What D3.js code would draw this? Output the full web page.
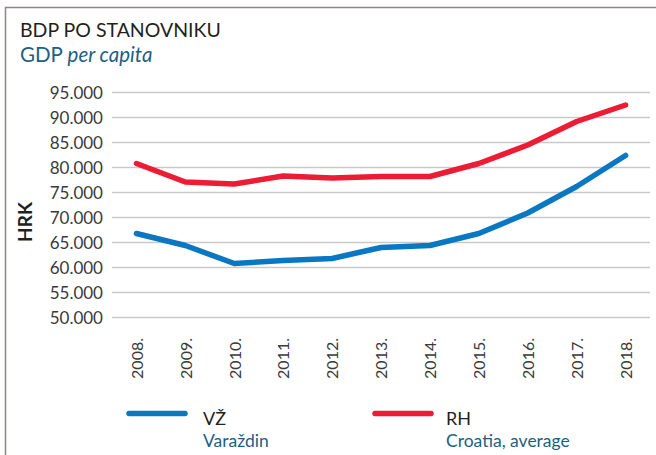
<!DOCTYPE html>
<html>
<head>
<meta charset="utf-8">
<script src="https://cdn.jsdelivr.net/npm/d3@7"></script>
<style>
  body { margin: 0; background: #fff; }
  svg { display: block; }
  text { font-family: Lato, "Open Sans", sans-serif; }
</style>
</head>
<body>
<svg width="656" height="455"></svg>
<script>
  // data
  var years = ["2008.", "2009.", "2010.", "2011.", "2012.", "2013.", "2014.", "2015.", "2016.", "2017.", "2018."];
  var varazdin = [66700, 64300, 60700, 61300, 61700, 63900, 64300, 66700, 70800, 76100, 82300];
  var croatia = [80700, 77000, 76600, 78200, 77800, 78100, 78100, 80700, 84400, 89100, 92400];
  var yTicks = [50000, 55000, 60000, 65000, 70000, 75000, 80000, 85000, 90000, 95000];

  var series = [
    { code: "VŽ", name: "Varaždin", values: varazdin, color: "#0a77c2" },
    { code: "RH", name: "Croatia, average", values: croatia, color: "#ec1c34" }
  ];

  // legend slots: line start, text start
  var legendPos = [[129, 203], [375, 446]];

  var svg = d3.select("svg"),
      width = +svg.attr("width"),
      height = +svg.attr("height");

  var tickFmt = function (v) { return d3.format(",.0f")(v).replace(/,/g, "."); };

  // frame
  svg.append("line").attr("x1", 5).attr("x2", width).attr("y1", 7.5).attr("y2", 7.5)
    .attr("stroke", "#8c8782").attr("stroke-width", 1.5);
  svg.append("line").attr("x1", 5.5).attr("x2", 5.5).attr("y1", 7).attr("y2", height)
    .attr("stroke", "#8c8782").attr("stroke-width", 1.5);

  // titles
  svg.append("text").attr("x", 20).attr("y", 37)
    .attr("font-size", 19.5).attr("fill", "#231f20").text("BDP PO STANOVNIKU");
  var sub = svg.append("text").attr("x", 20).attr("y", 62)
    .attr("font-size", 20.5).attr("fill", "#1d5f86");
  sub.append("tspan").text("GDP ");
  sub.append("tspan").attr("font-style", "italic").text("per capita");

  var x = d3.scalePoint().domain(years).range([112, 650]).padding(0.5);
  var y = d3.scaleLinear().domain([50000, 95000]).range([317, 92]);

  // grid + y labels
  var yAxis = svg.append("g")
    .attr("transform", "translate(112,0)")
    .call(d3.axisLeft(y).tickValues(yTicks).tickFormat(tickFmt).tickSize(-538).tickPadding(9));
  yAxis.select(".domain").remove();
  yAxis.selectAll(".tick line").attr("stroke", "#c9c9c9").attr("stroke-width", 1.5);
  yAxis.selectAll(".tick text").attr("font-size", 17).attr("fill", "#3a3a3a")
    .attr("font-family", "Lato, sans-serif").attr("dy", "0.4em");

  // x labels, rotated
  var xAxis = svg.append("g")
    .attr("transform", "translate(0,338)")
    .call(d3.axisBottom(x).tickSize(0).tickPadding(0));
  xAxis.select(".domain").remove();
  xAxis.selectAll(".tick text")
    .attr("font-size", 16).attr("fill", "#3a3a3a")
    .attr("font-family", "'Liberation Sans', Arial, sans-serif")
    .attr("text-anchor", "end")
    .attr("transform", "rotate(-90)")
    .attr("x", 0).attr("y", 0).attr("dy", "0.36em");

  // y title
  svg.append("text")
    .attr("transform", "translate(32,222) rotate(-90)")
    .attr("text-anchor", "middle")
    .attr("font-size", 19).attr("font-weight", "bold").attr("fill", "#231f20")
    .text("HRK");

  // lines
  var line = d3.line()
    .x(function (d, i) { return x(years[i]); })
    .y(function (d) { return y(d); });

  svg.append("g").selectAll("path")
    .data(series)
    .enter().append("path")
      .attr("d", function (d) { return line(d.values); })
      .attr("fill", "none")
      .attr("stroke", function (d) { return d.color; })
      .attr("stroke-width", 5.5)
      .attr("stroke-linecap", "round")
      .attr("stroke-linejoin", "round");

  // legend
  var legend = svg.append("g").selectAll("g")
    .data(series)
    .enter().append("g");

  legend.append("line")
    .attr("x1", function (d, i) { return legendPos[i][0]; })
    .attr("x2", function (d, i) { return legendPos[i][0] + 56; })
    .attr("y1", 413.5).attr("y2", 413.5)
    .attr("stroke", function (d) { return d.color; })
    .attr("stroke-width", 5.5).attr("stroke-linecap", "round");

  legend.append("text")
    .attr("x", function (d, i) { return legendPos[i][1]; })
    .attr("y", 424.5)
    .attr("font-size", 18).attr("fill", "#231f20")
    .text(function (d) { return d.code; });

  legend.append("text")
    .attr("x", function (d, i) { return legendPos[i][1]; })
    .attr("y", 446.5)
    .attr("font-size", 17.5).attr("fill", "#1d5f86")
    .text(function (d) { return d.name; });
</script>
</body>
</html>
